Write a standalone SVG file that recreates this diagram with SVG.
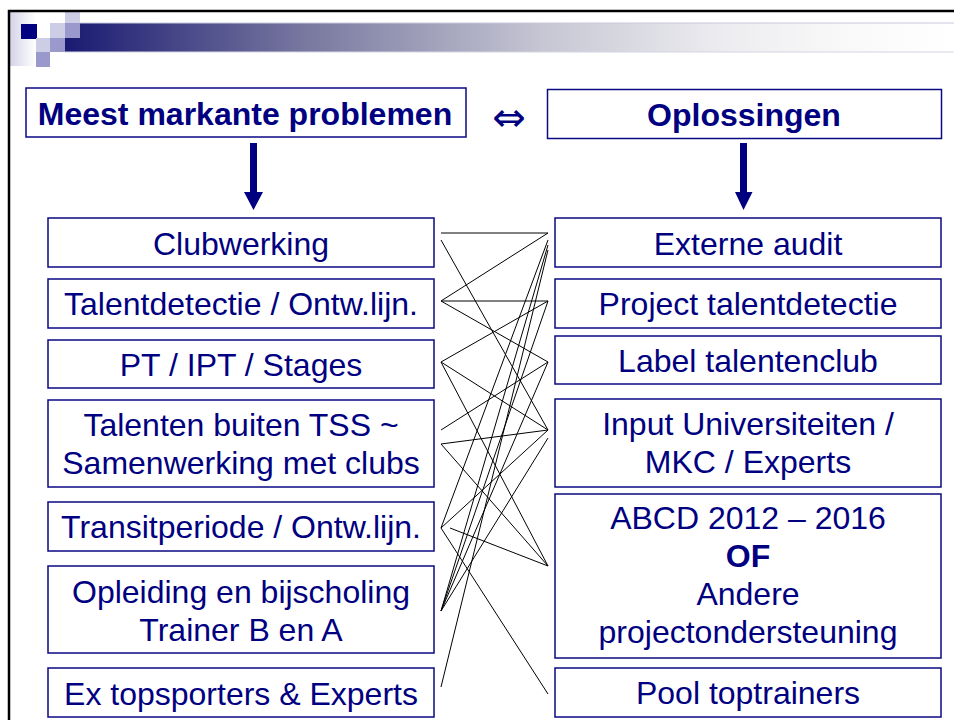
<svg xmlns="http://www.w3.org/2000/svg" width="954" height="720" viewBox="0 0 954 720">
<defs>
<linearGradient id="bar" x1="65" y1="0" x2="954" y2="0" gradientUnits="userSpaceOnUse">
<stop offset="0" stop-color="#1a1a72"/>
<stop offset="0.264" stop-color="#76769f"/>
<stop offset="0.545" stop-color="#c8c8d5"/>
<stop offset="0.737" stop-color="#ececf0"/>
<stop offset="0.88" stop-color="#f9f9f9"/>
<stop offset="1" stop-color="#ffffff"/>
</linearGradient>
<linearGradient id="side" x1="10" y1="0" x2="36" y2="0" gradientUnits="userSpaceOnUse">
<stop offset="0" stop-color="#d4d4e8"/>
<stop offset="1" stop-color="#ffffff"/>
</linearGradient>
<style>
.box{fill:#ffffff;stroke:#0a0a84;stroke-width:1.5}
.t{font-family:"Liberation Sans",Arial,sans-serif;font-size:32px;fill:#000080;text-anchor:middle}
.b{font-weight:bold}
.arr{fill:#000080}
.lk{stroke:#000000;stroke-width:1;fill:none}
</style>
</defs>
<rect width="954" height="720" fill="#ffffff"/>
<g id="decoration">
<rect x="10" y="12" width="26" height="54" fill="url(#side)"/>
<rect x="65" y="23" width="889" height="29" fill="url(#bar)"/>
<line x1="80" y1="23" x2="954" y2="23" stroke="#c8c8dc" stroke-width="1"/>
<line x1="65" y1="52" x2="954" y2="52" stroke="#d4d4e2" stroke-width="1"/>
<rect x="21" y="24" width="16" height="15" fill="#000080"/>
<rect x="65" y="12" width="15" height="11" fill="#cdcde6"/>
<rect x="50" y="23" width="15" height="15" fill="#cdcde6"/>
<rect x="65" y="23" width="15" height="15" fill="#9999cc"/>
<rect x="36" y="38" width="14" height="14" fill="#cdcde6"/>
<rect x="50" y="38" width="15" height="14" fill="#9999cc"/>
<rect x="36" y="52" width="14" height="15" fill="#9999cc"/>
<path d="M9,720 V11 H954" fill="none" stroke="#000000" stroke-width="2.5"/>
</g>
<g id="hdr-problemen">
<rect class="box" x="26" y="88" width="440" height="49"/>
<text class="t b" x="245" y="125">Meest markante problemen</text>
</g>
<g id="equiv">
<text x="509" y="131" font-family="DejaVu Sans, sans-serif" font-size="40" fill="#000080" text-anchor="middle">⇔</text>
</g>
<g id="hdr-oplossingen">
<rect class="box" x="547.5" y="89.5" width="394" height="49"/>
<text class="t b" x="744" y="126">Oplossingen</text>
</g>
<g id="arrows">
<path class="arr" d="M250,143 H257 V192 H263 L253.5,210 L244,192 H250 Z"/>
<path class="arr" d="M740,143 H747 V192 H752.5 L743.5,210 L735,192 H740 Z"/>
</g>
<g id="p-club"><rect class="box" x="48" y="218" width="386" height="49"/><text class="t" x="241" y="255">Clubwerking</text></g>
<g id="p-talent"><rect class="box" x="48" y="279" width="386" height="49"/><text class="t" x="241" y="315">Talentdetectie / Ontw.lijn.</text></g>
<g id="p-pt"><rect class="box" x="48" y="340" width="386" height="48"/><text class="t" x="241" y="376">PT / IPT / Stages</text></g>
<g id="p-talenten"><rect class="box" x="48" y="400" width="386" height="87"/><text class="t" x="241" y="436">Talenten buiten TSS ~</text><text class="t" x="241" y="473.5">Samenwerking met clubs</text></g>
<g id="p-transit"><rect class="box" x="48" y="502" width="386" height="49"/><text class="t" x="241" y="538">Transitperiode / Ontw.lijn.</text></g>
<g id="p-opleiding"><rect class="box" x="48" y="566" width="386" height="87"/><text class="t" x="241" y="603">Opleiding en bijscholing</text><text class="t" x="241" y="641">Trainer B en A</text></g>
<g id="p-ex"><rect class="box" x="48" y="668" width="386" height="49"/><text class="t" x="241" y="705">Ex topsporters &amp; Experts</text></g>
<g id="s-audit"><rect class="box" x="555" y="218" width="386" height="49"/><text class="t" x="748" y="255">Externe audit</text></g>
<g id="s-project"><rect class="box" x="555" y="279" width="386" height="49"/><text class="t" x="748" y="315">Project talentdetectie</text></g>
<g id="s-label"><rect class="box" x="555" y="336" width="386" height="48"/><text class="t" x="748" y="372">Label talentenclub</text></g>
<g id="s-input"><rect class="box" x="555" y="399" width="386" height="88"/><text class="t" x="748" y="435">Input Universiteiten /</text><text class="t" x="748" y="473">MKC / Experts</text></g>
<g id="s-abcd"><rect class="box" x="555" y="494" width="386" height="164"/><text class="t" x="748" y="529">ABCD 2012 – 2016</text><text class="t b" x="748" y="567">OF</text><text class="t" x="748" y="605">Andere</text><text class="t" x="748" y="643">projectondersteuning</text></g>
<g id="s-pool"><rect class="box" x="555" y="668" width="386" height="49"/><text class="t" x="748" y="704">Pool toptrainers</text></g>
<g id="connectors" class="lk">
<line x1="441" y1="233" x2="548" y2="233"/>
<line x1="441" y1="240" x2="548" y2="430"/>
<line x1="441" y1="301" x2="548" y2="233"/>
<line x1="441" y1="301" x2="548" y2="301"/>
<line x1="441" y1="301" x2="548" y2="362"/>
<line x1="441" y1="362" x2="548" y2="301"/>
<line x1="441" y1="362" x2="548" y2="430"/>
<line x1="441" y1="362" x2="548" y2="566"/>
<line x1="441" y1="430" x2="548" y2="362"/>
<line x1="441" y1="444" x2="548" y2="430"/>
<line x1="441" y1="444" x2="548" y2="566"/>
<line x1="441" y1="528" x2="548" y2="240"/>
<line x1="441" y1="528" x2="548" y2="430"/>
<line x1="441" y1="528" x2="548" y2="694"/>
<line x1="450" y1="528" x2="548" y2="566"/>
<line x1="441" y1="611" x2="548" y2="245"/>
<line x1="441" y1="611" x2="548" y2="301"/>
<line x1="441" y1="611" x2="548" y2="362"/>
<line x1="441" y1="611" x2="548" y2="438"/>
<line x1="441" y1="687" x2="548" y2="250"/>
</g>
</svg>
